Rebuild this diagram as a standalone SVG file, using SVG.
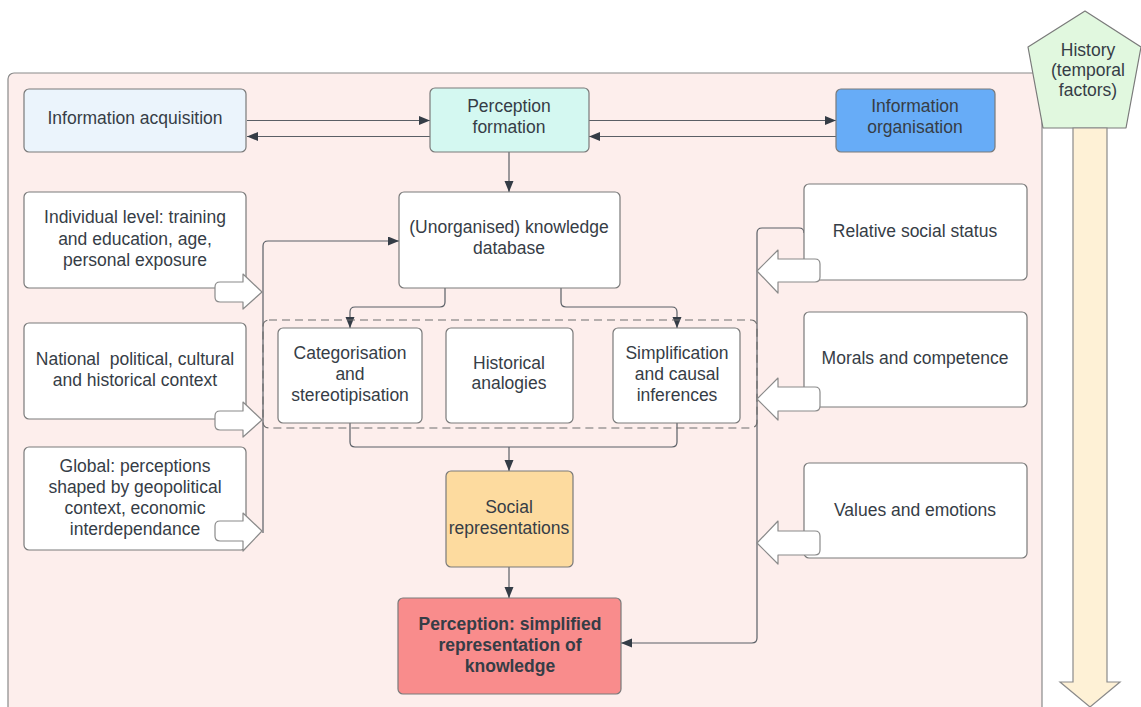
<svg xmlns="http://www.w3.org/2000/svg" width="1141" height="707" viewBox="0 0 1141 707">
<defs>
<marker id="ah" markerUnits="userSpaceOnUse" markerWidth="12" markerHeight="10" refX="11" refY="4.5" orient="auto">
<path d="M0,0 L11,4.5 L0,9 z" fill="#343c46"/>
</marker>
<style>
.box{stroke:#7a7a7a;stroke-width:1.2}
.t{font-family:"Liberation Sans",Arial,sans-serif;font-size:17.5px;fill:#363d46;text-anchor:middle}
.b{font-weight:bold}
.c{fill:none;stroke:#5a5f66;stroke-width:1.2}
.ba{fill:#ffffff;stroke:#8a8a8a;stroke-width:1.2;stroke-linejoin:round}
</style>
</defs>
<rect width="1141" height="707" fill="#ffffff"/>
<g id="container">
<rect x="8" y="73" width="1034" height="650" rx="6" fill="#fdeeec" stroke="#8a8a8a" stroke-width="1.2"/>
</g>
<g id="history">
<polygon points="1085,11 1141,47 1126,128 1043,128 1028,47" fill="#e1f8df" stroke="#7a7a7a" stroke-width="1.2" stroke-linejoin="round"/>
<text class="t" x="1088" y="56">History</text>
<text class="t" x="1088" y="76">(temporal</text>
<text class="t" x="1088" y="96">factors)</text>
<path d="M1073,128 L1107,128 L1107,682 L1120,682 L1090,707 L1060,682 L1073,682 Z" fill="#fef1d6" stroke="#8a8a8a" stroke-width="1.2"/>
</g>
<g id="connectors">
<line class="c" x1="247" y1="120.5" x2="430" y2="120.5" marker-end="url(#ah)"/>
<line class="c" x1="430" y1="136.5" x2="247" y2="136.5" marker-end="url(#ah)"/>
<line class="c" x1="589" y1="120.5" x2="836" y2="120.5" marker-end="url(#ah)"/>
<line class="c" x1="836" y1="136.5" x2="589" y2="136.5" marker-end="url(#ah)"/>
<line class="c" x1="509" y1="152" x2="509" y2="192" marker-end="url(#ah)"/>
<path class="c" d="M263,533 L263,246 Q263,241 268,241 L399,241" marker-end="url(#ah)"/>
<path class="c" d="M445,288 L445,302 Q445,307 440,307 L355,307 Q350,307 350,312 L350,328" marker-end="url(#ah)"/>
<path class="c" d="M561,288 L561,302 Q561,307 566,307 L672,307 Q677,307 677,312 L677,328" marker-end="url(#ah)"/>
<path class="c" d="M350,423 L350,442 Q350,447 355,447 L672,447 Q677,447 677,442 L677,423"/>
<line class="c" x1="509" y1="447" x2="509" y2="471" marker-end="url(#ah)"/>
<line class="c" x1="509" y1="567" x2="509" y2="598" marker-end="url(#ah)"/>
<path class="c" d="M804,233 Q804,228 799,228 L762,228 Q757,228 757,233 L757,638 Q757,643 752,643 L621,643" marker-end="url(#ah)"/>
</g>
<g id="info-acquisition">
<rect class="box" x="24" y="89" width="222" height="63" rx="5" fill="#ebf4fc"/>
<text class="t" x="135" y="124">Information acquisition</text>
</g>
<g id="perception-formation">
<rect class="box" x="430" y="88" width="159" height="64" rx="5" fill="#d4f8f1"/>
<text class="t" x="509" y="112">Perception</text>
<text class="t" x="509" y="133">formation</text>
</g>
<g id="info-organisation">
<rect class="box" x="836" y="89" width="159" height="63" rx="5" fill="#67acf7"/>
<text class="t" x="915" y="112">Information</text>
<text class="t" x="915" y="133">organisation</text>
</g>
<g id="knowledge-db">
<rect class="box" x="399" y="192" width="221" height="96" rx="5" fill="#ffffff"/>
<text class="t" x="509" y="233">(Unorganised) knowledge</text>
<text class="t" x="509" y="254">database</text>
</g>
<g id="individual">
<rect class="box" x="24" y="192" width="222" height="96" rx="5" fill="#ffffff"/>
<text class="t" x="135" y="223">Individual level: training</text>
<text class="t" x="135" y="245">and education, age,</text>
<text class="t" x="135" y="266">personal exposure</text>
<path class="ba" d="M220,282 L243,282 L243,274 L262,292 L243,309 L243,302 L220,302 Q215,302 215,297 L215,287 Q215,282 220,282 Z"/>
</g>
<g id="national">
<rect class="box" x="24" y="323" width="222" height="96" rx="5" fill="#ffffff"/>
<text class="t" x="135" y="365">National&#160; political, cultural</text>
<text class="t" x="135" y="386">and historical context</text>
<path class="ba" d="M220,411 L243,411 L243,402 L262,420 L243,437 L243,430 L220,430 Q215,430 215,425 L215,416 Q215,411 220,411 Z"/>
</g>
<g id="global">
<rect class="box" x="24" y="447" width="222" height="103" rx="5" fill="#ffffff"/>
<text class="t" x="135" y="472">Global: perceptions</text>
<text class="t" x="135" y="493">shaped by geopolitical</text>
<text class="t" x="135" y="514">context, economic</text>
<text class="t" x="135" y="535">interdependance</text>
<path class="ba" d="M220,521 L243,521 L243,513 L262,531 L243,551 L243,541 L220,541 Q215,541 215,536 L215,526 Q215,521 220,521 Z"/>
</g>
<g id="processing-group">
<rect x="263" y="320" width="494" height="108" rx="6" fill="none" stroke="#6e6e6e" stroke-width="1.2" stroke-dasharray="8,5"/>
</g>
<g id="categorisation">
<rect class="box" x="278" y="328" width="144" height="95" rx="5" fill="#ffffff"/>
<text class="t" x="350" y="359">Categorisation</text>
<text class="t" x="350" y="380">and</text>
<text class="t" x="350" y="401">stereotipisation</text>
</g>
<g id="historical">
<rect class="box" x="446" y="328" width="127" height="95" rx="5" fill="#ffffff"/>
<text class="t" x="509" y="369">Historical</text>
<text class="t" x="509" y="389">analogies</text>
</g>
<g id="simplification">
<rect class="box" x="613" y="328" width="127" height="95" rx="5" fill="#ffffff"/>
<text class="t" x="677" y="359">Simplification</text>
<text class="t" x="677" y="380">and causal</text>
<text class="t" x="677" y="401">inferences</text>
</g>
<g id="social-representations">
<rect class="box" x="446" y="471" width="127" height="96" rx="5" fill="#fddb9f"/>
<text class="t" x="509" y="513">Social</text>
<text class="t" x="509" y="534">representations</text>
</g>
<g id="perception">
<rect class="box" x="398" y="598" width="223" height="96" rx="5" fill="#f98c8c"/>
<text class="t b" x="510" y="630">Perception: simplified</text>
<text class="t b" x="510" y="651">representation of</text>
<text class="t b" x="510" y="672">knowledge</text>
</g>
<g id="relative-status">
<rect class="box" x="804" y="184" width="223" height="96" rx="5" fill="#ffffff"/>
<text class="t" x="915" y="237">Relative social status</text>
<path class="ba" d="M815,259 L778,259 L778,250 L757,271 L778,293 L778,282 L815,282 Q820,282 820,277 L820,264 Q820,259 815,259 Z"/>
</g>
<g id="morals">
<rect class="box" x="804" y="312" width="223" height="95" rx="5" fill="#ffffff"/>
<text class="t" x="915" y="364">Morals and competence</text>
<path class="ba" d="M815,387 L778,387 L778,378 L757,399 L778,420 L778,411 L815,411 Q820,411 820,406 L820,392 Q820,387 815,387 Z"/>
</g>
<g id="values">
<rect class="box" x="804" y="463" width="223" height="95" rx="5" fill="#ffffff"/>
<text class="t" x="915" y="516">Values and emotions</text>
<path class="ba" d="M815,531 L778,531 L778,521 L757,543 L778,564 L778,555 L815,555 Q820,555 820,550 L820,536 Q820,531 815,531 Z"/>
</g>
</svg>
